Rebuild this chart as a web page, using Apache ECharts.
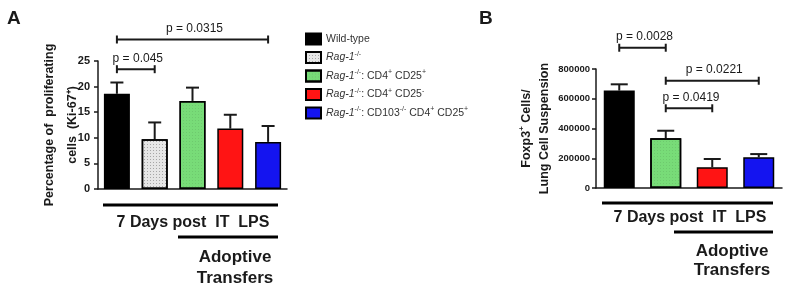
<!DOCTYPE html>
<html>
<head>
<meta charset="utf-8">
<script src="https://cdn.jsdelivr.net/npm/echarts@6/dist/echarts.min.js"></script>
<style>
  html, body { margin: 0; padding: 0; background: #fff; }
  #chart { width: 792px; height: 292px; }
</style>
</head>
<body>
<div id="chart"></div>
<script>
// panel A - Ki-67+ proliferating cells
const groupsA = ['Wild-type', 'Rag-1-/-', 'Rag-1-/-: CD4+ CD25+', 'Rag-1-/-: CD4+ CD25-', 'Rag-1-/-: CD103-/- CD4+ CD25+'];
const meanA = [18.6, 9.7, 17.2, 11.8, 9.2];
const upperA = [20.8, 13.0, 19.8, 14.5, 12.3];
const colorsA = ['#000000', '#e6e6e6', '#78dc78', '#ff1414', '#1414f0'];
const sigPairsA = [[0, 1], [0, 4]];
const sigLevelA = [23.4, 29.2];
const sigTextA = ['p = 0.045', 'p = 0.0315'];

// panel B - Foxp3+ cells
const groupsB = ['Wild-type', 'Rag-1-/-: CD4+ CD25+', 'Rag-1-/-: CD4+ CD25-', 'Rag-1-/-: CD103-/- CD4+ CD25+'];
const meanB = [655000, 335000, 140000, 207000];
const upperB = [697000, 385000, 195000, 228000];
const colorsB = ['#000000', '#78dc78', '#ff1414', '#1414f0'];
const sigPairsB = [[0, 1], [1, 3], [1, 2]];
const sigLevelB = [943000, 721000, 536000];
const sigTextB = ['p = 0.0028', 'p = 0.0221', 'p = 0.0419'];

// legend labels with italics / superscripts
const legendRich = {
  'Wild-type': 'Wild-type',
  'Rag-1-/-': '{i|Rag-1}{s|-/-}',
  'Rag-1-/-: CD4+ CD25+': '{i|Rag-1}{s|-/-}: CD4{s|+} CD25{s|+}',
  'Rag-1-/-: CD4+ CD25-': '{i|Rag-1}{s|-/-}: CD4{s|+} CD25{s|-}',
  'Rag-1-/-: CD103-/- CD4+ CD25+': '{i|Rag-1}{s|-/-}: CD103{s|-/-} CD4{s|+} CD25{s|+}'
};

const FONT = 'Liberation Sans, Arial, sans-serif';
const INK = '#1a1a1a';

function decalFor(color) {
  if (color === '#e6e6e6') return { symbol: 'rect', symbolSize: 1, dashArrayX: [1, 2], dashArrayY: [1, 2], color: 'rgba(0,0,0,0.28)' };
  if (color === '#78dc78') return { symbol: 'rect', symbolSize: 1, dashArrayX: [1, 2], dashArrayY: [1, 2], color: 'rgba(0,0,0,0.08)' };
  return null;
}

function errorBars(capW) {
  return function (params, api) {
    const i = api.value(0);
    const lo = api.coord([i, api.value(1)]);
    const hi = api.coord([i, api.value(2)]);
    const st = { stroke: INK, lineWidth: 2 };
    return {
      type: 'group',
      children: [
        { type: 'line', shape: { x1: lo[0], y1: lo[1], x2: hi[0], y2: hi[1] }, style: st },
        { type: 'line', shape: { x1: hi[0] - capW / 2, y1: hi[1], x2: hi[0] + capW / 2, y2: hi[1] }, style: st }
      ]
    };
  };
}

function sigBrackets(texts) {
  return function (params, api) {
    const a = api.coord([api.value(0), api.value(2)]);
    const b = api.coord([api.value(1), api.value(2)]);
    const st = { stroke: INK, lineWidth: 2 };
    return {
      type: 'group',
      children: [
        { type: 'line', shape: { x1: a[0], y1: a[1], x2: b[0], y2: b[1] }, style: st },
        { type: 'line', shape: { x1: a[0], y1: a[1] - 4, x2: a[0], y2: a[1] + 4 }, style: st },
        { type: 'line', shape: { x1: b[0], y1: b[1] - 4, x2: b[0], y2: b[1] + 4 }, style: st },
        { type: 'text', x: (a[0] + b[0]) / 2 + 2, y: a[1] - 5,
          style: { text: texts[params.dataIndex], align: 'center', verticalAlign: 'bottom', fill: INK, font: '12px ' + FONT } }
      ]
    };
  };
}

const axisLine = { lineStyle: { color: INK, width: 1.5 } };
function supRich(lh) {
  return { s: { fontSize: 8, fontWeight: 'bold', lineHeight: lh, verticalAlign: 'top', fontFamily: FONT, color: INK } };
}

const seriesA = groupsA.map((g, i) => ({
  name: g,
  type: 'bar',
  xAxisIndex: 0, yAxisIndex: 0,
  barWidth: 26,
  barGap: '-100%',
  data: groupsA.map((_, j) => (j === i ? meanA[i] : '-')),
  itemStyle: { color: colorsA[i], borderColor: '#000', borderWidth: 1.5, decal: decalFor(colorsA[i]) },
  z: 2
}));

const chart = echarts.init(document.getElementById('chart'), null, { renderer: 'canvas' });
chart.setOption({
  animation: false,
  backgroundColor: '#fff',
  textStyle: { fontFamily: FONT },
  legend: {
    data: groupsA,
    orient: 'vertical',
    left: 300,
    top: 27,
    itemWidth: 15,
    itemHeight: 11,
    itemGap: 4.5,
    icon: 'rect',
    formatter: name => legendRich[name],
    textStyle: {
      fontSize: 10.5, color: '#333', fontFamily: FONT, lineHeight: 14,
      rich: {
        i: { fontStyle: 'italic', fontSize: 10.5, color: '#333', lineHeight: 14, fontFamily: FONT },
        s: { fontSize: 7, color: '#333', lineHeight: 8, verticalAlign: 'top', fontFamily: FONT }
      }
    }
  },
  grid: [
    { left: 98, top: 61, width: 189, height: 128 },
    { left: 596, top: 69, width: 186, height: 119 }
  ],
  xAxis: [
    { type: 'category', gridIndex: 0, data: groupsA, axisLine, axisLabel: { show: false },
      axisTick: { alignWithLabel: true, length: 5, lineStyle: { color: INK, width: 1.5 } } },
    { type: 'category', gridIndex: 1, data: groupsB, axisLine, axisLabel: { show: false },
      axisTick: { alignWithLabel: true, length: 5, lineStyle: { color: INK, width: 1.5 } } }
  ],
  yAxis: [
    { type: 'value', gridIndex: 0, min: 0, max: 25, interval: 5,
      axisLine: { show: true, lineStyle: { color: INK, width: 1.5 } },
      axisTick: { show: true, length: 4, lineStyle: { color: INK, width: 1.5 } },
      splitLine: { show: false },
      axisLabel: { color: INK, fontWeight: 'bold', fontSize: 11, margin: 8, fontFamily: FONT },
      name: 'Percentage of  proliferating\ncells  (Ki-67\u207A)',
      nameLocation: 'middle', nameRotate: 90, nameGap: 14, nameMoveOverlap: false,
      nameTextStyle: { fontWeight: 'bold', fontSize: 12.5, lineHeight: 23, color: INK, fontFamily: FONT } },
    { type: 'value', gridIndex: 1, min: 0, max: 800000, interval: 200000,
      axisLine: { show: true, lineStyle: { color: INK, width: 1.5 } },
      axisTick: { show: true, length: 4, lineStyle: { color: INK, width: 1.5 } },
      splitLine: { show: false },
      axisLabel: { color: INK, fontWeight: 'bold', fontSize: 9.5, margin: 6, fontFamily: FONT, formatter: v => String(v) },
      name: 'Foxp3{s|+} Cells/\nLung Cell Suspension',
      nameLocation: 'middle', nameRotate: 90, nameGap: 42, nameMoveOverlap: false,
      nameTextStyle: { fontWeight: 'bold', fontSize: 12.5, lineHeight: 18, color: INK, fontFamily: FONT, rich: supRich(10) } }
  ],
  series: [
    ...seriesA,
    { name: 'errA', type: 'custom', xAxisIndex: 0, yAxisIndex: 0, z: 1,
      renderItem: errorBars(13), data: meanA.map((m, i) => [i, m, upperA[i]]) },
    { name: 'sigA', type: 'custom', xAxisIndex: 0, yAxisIndex: 0, z: 3, clip: false,
      renderItem: sigBrackets(sigTextA), data: sigPairsA.map((p, k) => [p[0], p[1], sigLevelA[k]]) },
    { name: 'Foxp3', type: 'bar', xAxisIndex: 1, yAxisIndex: 1, barWidth: 31, z: 2,
      data: meanB.map((v, i) => ({ value: v,
        itemStyle: { color: colorsB[i], borderColor: '#000', borderWidth: 1.5, decal: decalFor(colorsB[i]) } })) },
    { name: 'errB', type: 'custom', xAxisIndex: 1, yAxisIndex: 1, z: 1,
      renderItem: errorBars(17), data: meanB.map((m, i) => [i, m, upperB[i]]) },
    { name: 'sigB', type: 'custom', xAxisIndex: 1, yAxisIndex: 1, z: 3, clip: false,
      renderItem: sigBrackets(sigTextB), data: sigPairsB.map((p, k) => [p[0], p[1], sigLevelB[k]]) }
  ],
  graphic: [
    { type: 'text', left: 7, top: 9, style: { text: 'A', font: 'bold 19px ' + FONT, fill: INK } },
    { type: 'text', left: 479, top: 9, style: { text: 'B', font: 'bold 19px ' + FONT, fill: INK } },
    // panel A footer
    { type: 'line', shape: { x1: 103, y1: 205, x2: 278, y2: 205 }, style: { stroke: '#000', lineWidth: 3 } },
    { type: 'text', x: 193, y: 223, style: { text: '7 Days post  IT  LPS', align: 'center', verticalAlign: 'middle', font: 'bold 16px ' + FONT, fill: INK } },
    { type: 'line', shape: { x1: 178, y1: 237, x2: 278, y2: 237 }, style: { stroke: '#000', lineWidth: 3 } },
    { type: 'text', x: 235, y: 257, style: { text: 'Adoptive', align: 'center', verticalAlign: 'middle', font: 'bold 17px ' + FONT, fill: INK } },
    { type: 'text', x: 235, y: 278, style: { text: 'Transfers', align: 'center', verticalAlign: 'middle', font: 'bold 17px ' + FONT, fill: INK } },
    // panel B footer
    { type: 'line', shape: { x1: 602, y1: 203, x2: 773, y2: 203 }, style: { stroke: '#000', lineWidth: 3 } },
    { type: 'text', x: 690, y: 218, style: { text: '7 Days post  IT  LPS', align: 'center', verticalAlign: 'middle', font: 'bold 16px ' + FONT, fill: INK } },
    { type: 'line', shape: { x1: 674, y1: 232, x2: 773, y2: 232 }, style: { stroke: '#000', lineWidth: 3 } },
    { type: 'text', x: 732, y: 251, style: { text: 'Adoptive', align: 'center', verticalAlign: 'middle', font: 'bold 17px ' + FONT, fill: INK } },
    { type: 'text', x: 732, y: 270, style: { text: 'Transfers', align: 'center', verticalAlign: 'middle', font: 'bold 17px ' + FONT, fill: INK } }
  ]
});
</script>
</body>
</html>
